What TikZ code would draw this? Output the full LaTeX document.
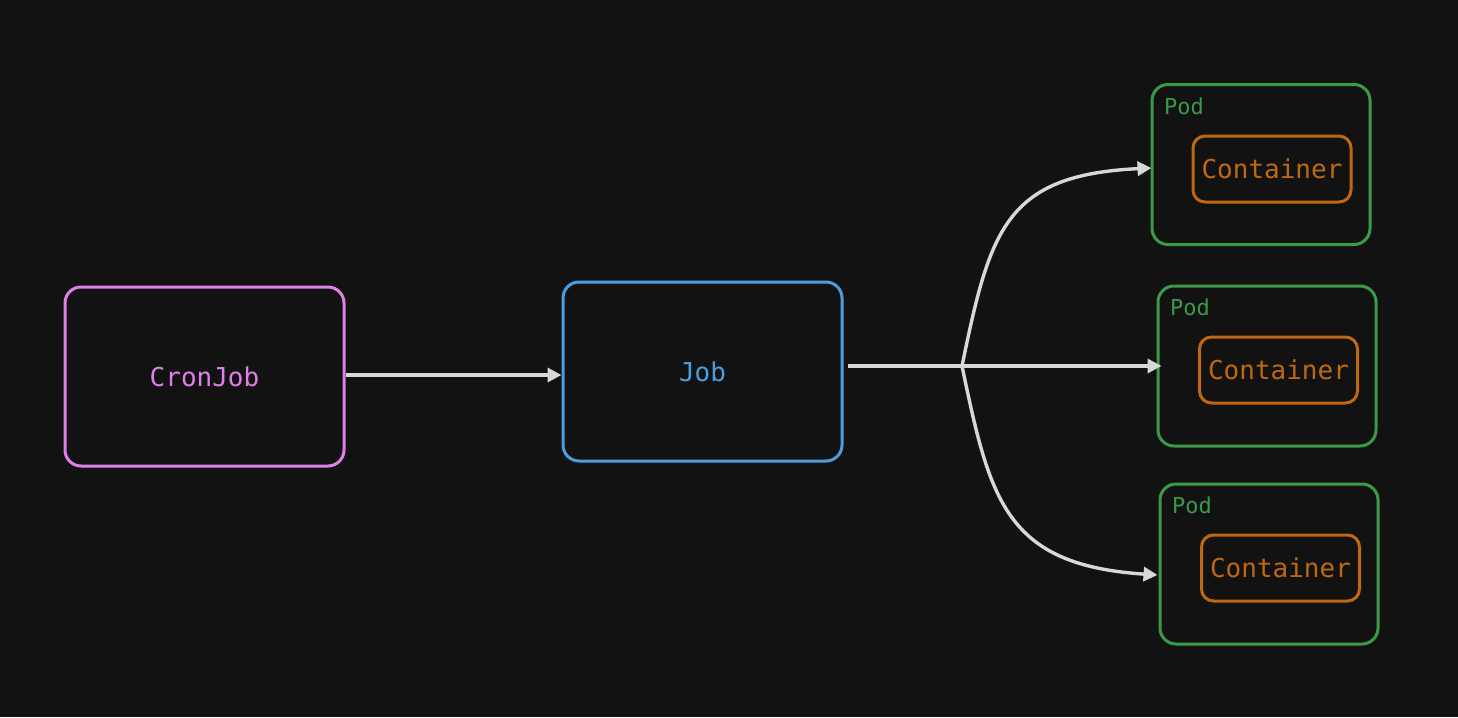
\documentclass[tikz,border=0pt]{standalone}
\usepackage{fontspec}
\setmonofont{DejaVu Sans Mono}
\usetikzlibrary{arrows.meta,calc}
\definecolor{bg}{HTML}{121212}
\definecolor{cpink}{HTML}{E07FE8}
\definecolor{cblue}{HTML}{4A9EE0}
\definecolor{cgreen}{HTML}{3A9A48}
\definecolor{corange}{HTML}{C06810}
\definecolor{cline}{HTML}{D8D8D8}
\tikzset{
  bigbox/.style={draw, line width=3pt, rounded corners=16pt, minimum width=279pt, minimum height=179pt, inner sep=0pt, font=\ttfamily\fontsize{26pt}{30pt}\selectfont},
  podbox/.style={draw=cgreen, line width=3pt, rounded corners=16pt, minimum width=218pt, minimum height=160pt, inner sep=0pt},
  contbox/.style={draw=corange, text=corange, line width=3pt, rounded corners=12pt, minimum width=158pt, minimum height=66pt, inner sep=0pt, font=\ttfamily\fontsize{26pt}{30pt}\selectfont},
  podlabel/.style={text=cgreen, anchor=west, inner sep=0pt, font=\ttfamily\fontsize{22pt}{26pt}\selectfont},
  conn/.style={draw=cline, line width=3.4pt, -{Triangle[length=14pt,width=14pt]}},
  connplain/.style={draw=cline, line width=3.4pt}
}
\begin{document}
\begin{tikzpicture}[x=1pt,y=-1pt]
\fill[bg] (0,0) rectangle (1458,717);
\useasboundingbox (0,0) rectangle (1458,717);
\node[bigbox, draw=cpink, text=cpink] (cron) at (204.5,376.5) {CronJob};
\node[bigbox, draw=cblue, text=cblue] (job) at (702.5,371.5) {Job};
\node[podbox] (pod1) at (1261,164.5) {};
\node[podbox] (pod2) at (1267,366) {};
\node[podbox] (pod3) at (1269,564) {};
\node[contbox] (c1) at (1272,169) {Container};
\node[contbox] (c2) at (1278.5,370) {Container};
\node[contbox] (c3) at (1280.5,568) {Container};
\node[podlabel] (p1) at (1164,106) {Pod};
\node[podlabel] (p2) at (1170,307) {Pod};
\node[podlabel] (p3) at (1172,505) {Pod};
\coordinate (br) at (962,366);
\coordinate (e1) at ($(pod1.west)+(1,3.5)$);
\coordinate (e3) at ($(pod3.west)+(-1,11)$);
\draw[conn] (cron.east |- 0,375) -- ($(job.west |- 0,375)+(0,0)$);
\draw[connplain] ($(job.east |- br)+(4,0)$) -- (br);
\draw[conn] (br) -- ($(pod2.west)+(5,0)$);
\draw[conn] (br) .. controls (990,230) and (1005,175) .. (e1);
\draw[conn] (br) .. controls (990,500) and (1005,565) .. (e3);
\end{tikzpicture}
\end{document}
